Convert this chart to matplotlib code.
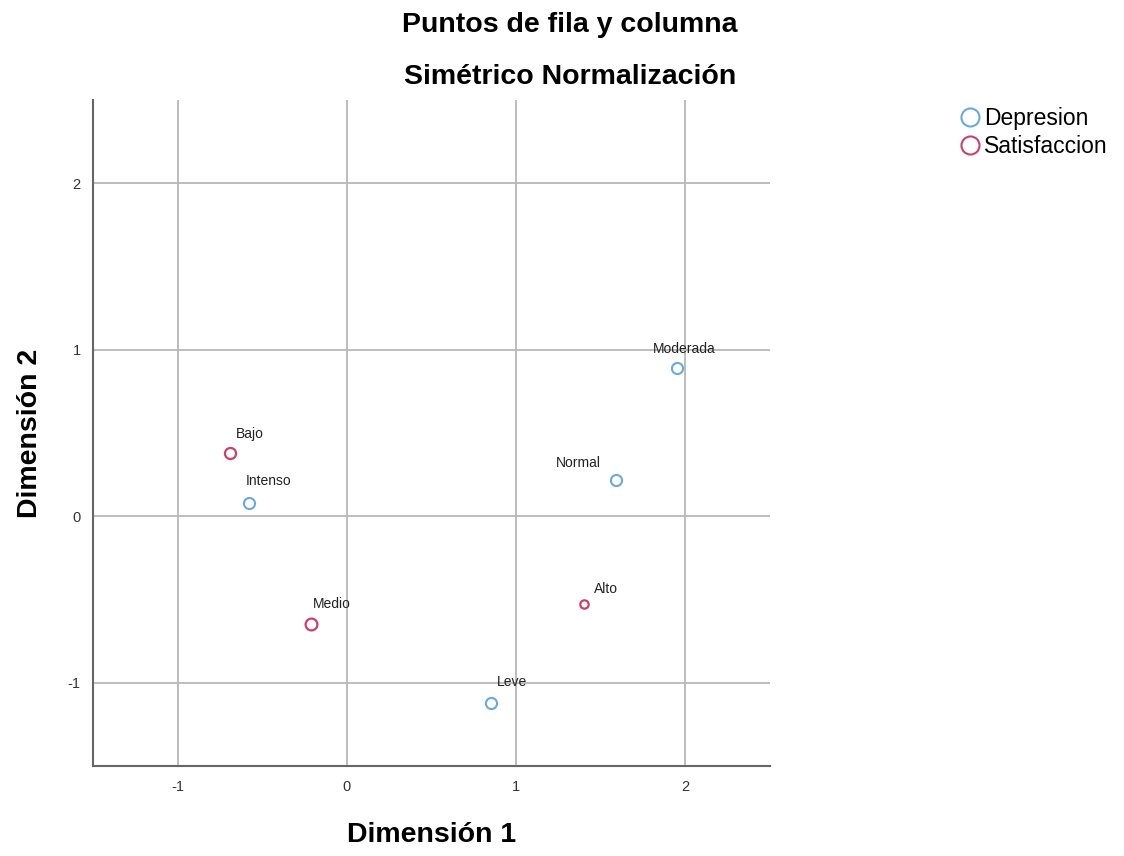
import matplotlib
matplotlib.use('Agg')
import matplotlib.pyplot as plt
from matplotlib.lines import Line2D

# ---- data ----
dep_labels = ['Moderada', 'Normal', 'Intenso', 'Leve']
dep_x      = [1.95, 1.59, -0.58, 0.85]
dep_y      = [0.89, 0.22, 0.08, -1.12]

sat_labels = ['Bajo', 'Medio', 'Alto']
sat_x      = [-0.69, -0.21, 1.40]
sat_y      = [0.38, -0.65, -0.53]

x_ticks = [-1, 0, 1, 2]
y_ticks = [-1, 0, 1, 2]
# -------------------------------------

BLUE = '#6aa9dc'
PINK = '#cc3f6b'
GRID = '#b8b8b8'

plt.rcParams['font.family'] = ['Liberation Sans', 'DejaVu Sans']
plt.rcParams['axes.unicode_minus'] = False

fig = plt.figure(figsize=(11.24, 8.56), dpi=100)
ax = fig.add_axes([93/1124, 90/856, 677/1124, 666/856])

ax.set_xlim(-1.5, 2.5)
ax.set_ylim(-1.5, 2.5)
ax.set_xticks(x_ticks)
ax.set_yticks(y_ticks)
ax.grid(True, color=GRID, linewidth=1.3)
ax.set_axisbelow(True)
ax.tick_params(length=0, labelsize=10.5, colors='#333333')
ax.tick_params(axis='x', pad=10)
ax.tick_params(axis='y', pad=9)

for s in ['top', 'right']:
    ax.spines[s].set_visible(False)
for s in ['left', 'bottom']:
    ax.spines[s].set_color('#666666')
    ax.spines[s].set_linewidth(1.5)

# label offsets in pixels (label centre relative to point)
dep_off = [(7, 19), (-38, 17), (20, 22), (21, 21)]
sat_off = [(20, 19), (20, 20), (22, 15)]
sat_size = [8, 8.5, 6]

for lab, x, y, off in zip(dep_labels, dep_x, dep_y, dep_off):
    ax.plot(x, y, 'o', mfc='white', mec=BLUE, mew=1.5, ms=8, zorder=3)
    ax.annotate(lab, (x, y), xytext=off, textcoords='offset pixels',
                ha='center', va='center', fontsize=10, color='#222222')

for lab, x, y, off, ms in zip(sat_labels, sat_x, sat_y, sat_off, sat_size):
    ax.plot(x, y, 'o', mfc='white', mec=PINK, mew=1.6, ms=ms, zorder=3)
    ax.annotate(lab, (x, y), xytext=off, textcoords='offset pixels',
                ha='center', va='center', fontsize=10, color='#222222')

ax.set_xlabel('Dimensión 1', fontsize=20.5, fontweight='bold', va='center')
ax.set_ylabel('Dimensión 2', fontsize=20.5, fontweight='bold', va='center')
ax.xaxis.set_label_coords(0.5, (856 - 835 - 90) / 666)
ax.yaxis.set_label_coords((30 - 93) / 677, 0.5)

fig.text(570/1124, 1 - 25/856, 'Puntos de fila y columna', ha='center', va='center',
         fontsize=20.5, fontweight='bold')
fig.text(570/1124, 1 - 77/856, 'Simétrico Normalización', ha='center', va='center',
         fontsize=20.5, fontweight='bold')

handles = [
    Line2D([], [], ls='none', marker='o', mfc='white', mec=BLUE, mew=1.5, ms=13),
    Line2D([], [], ls='none', marker='o', mfc='white', mec=PINK, mew=1.5, ms=13),
]
fig.legend(handles, ['Depresion', 'Satisfaccion'], loc='upper left',
           bbox_to_anchor=(934/1124, 1 - 86/856), frameon=False,
           handletextpad=0.0, handlelength=1.3, labelspacing=0.22,
           prop={'size': 16.5})

fig.savefig('out.png', dpi=100)
